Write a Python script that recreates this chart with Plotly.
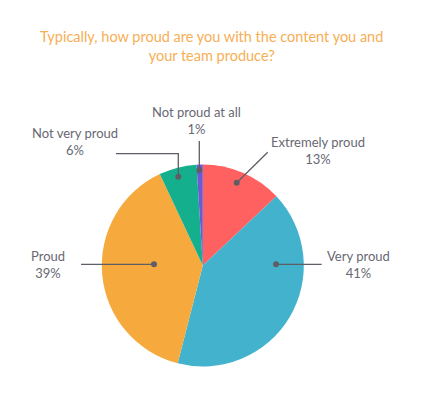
import plotly.graph_objects as go

# ---- data ----
labels = ["Extremely proud", "Very proud", "Proud", "Not very proud", "Not proud at all"]
values = [13, 41, 39, 6, 1]
colors = ["#FF6161", "#43B3CD", "#F6AA3E", "#14B08D", "#6A5BD5"]
title_text = "Typically, how proud are you with the content you and<br>your team produce?"

# ---- layout constants (pixels) ----
W, H = 423, 394
CX, CY, R = 202.8, 265.5, 101.0

label_pos = {
    "Extremely proud": (318, 150),
    "Very proud": (358, 264),
    "Proud": (48, 264),
    "Not very proud": (75, 141),
    "Not proud at all": (196, 120),
}
conn_paths = {
    "Extremely proud": [(236.7, 182.7), (267.7, 152.3)],
    "Very proud": [(276.0, 264.3), (321.7, 264.3)],
    "Proud": [(154.0, 264.3), (81.0, 264.3)],
    "Not very proud": [(178.3, 176.7), (178.3, 153.7), (116.0, 153.7)],
    "Not proud at all": [(199.3, 170.0), (199.3, 141.0)],
}

fig = go.Figure()
fig.add_trace(go.Pie(
    labels=labels, values=values, sort=False, direction="clockwise", rotation=0,
    marker=dict(colors=colors, line=dict(width=0)),
    textinfo="none", hoverinfo="label+percent", showlegend=False,
    domain=dict(x=[(CX - R) / W, (CX + R) / W], y=[(H - CY - R) / H, (H - CY + R) / H]),
))

line_color = "#5E5E66"
for lab in labels:
    pts = conn_paths[lab]
    path = "M " + " L ".join(f"{x},{y}" for x, y in pts)
    fig.add_shape(type="path", path=path, xref="x", yref="y", layer="above",
                  line=dict(color=line_color, width=1.3))
    dx, dy = pts[0]
    fig.add_shape(type="circle", xref="x", yref="y", layer="above",
                  x0=dx - 3, x1=dx + 3, y0=dy - 3, y1=dy + 3,
                  fillcolor=line_color, line=dict(width=0))

total = sum(values)
for lab, v in zip(labels, values):
    x, y = label_pos[lab]
    fig.add_annotation(
        x=x, y=y, xref="x", yref="y", text=f"{lab}<br>{round(100 * v / total)}%",
        showarrow=False, xanchor="center", yanchor="middle", align="center",
        font=dict(family="Lato, sans-serif", size=13, color="#686873"),
    )

fig.add_annotation(
    x=211, y=46, xref="x", yref="y", text=title_text, showarrow=False,
    xanchor="center", yanchor="middle", align="center",
    font=dict(family="Lato, sans-serif", size=14.5, color="#F7AE55"),
)

fig.update_layout(
    width=W, height=H, margin=dict(l=0, r=0, t=0, b=0),
    paper_bgcolor="white", plot_bgcolor="rgba(0,0,0,0)",
    xaxis=dict(range=[0, W], visible=False, domain=[0, 1], fixedrange=True),
    yaxis=dict(range=[H, 0], visible=False, domain=[0, 1], fixedrange=True),
)

fig.write_html("out.html", config={"displayModeBar": False},
               post_script="document.body.style.margin='0';document.body.style.padding='0';")
